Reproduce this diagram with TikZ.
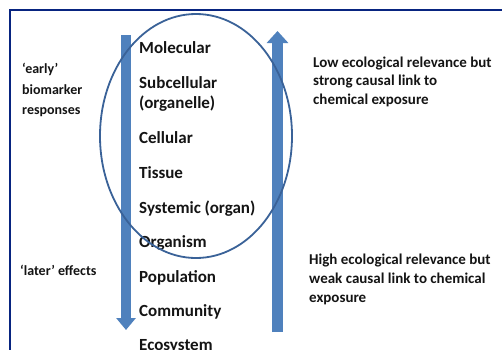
\documentclass[tikz,border=0pt]{standalone}
\usepackage{fontspec}
\setmainfont{Carlito}
\usetikzlibrary{arrows.meta}
\definecolor{framenavy}{RGB}{8,36,128}
\definecolor{arrowblue}{RGB}{79,129,189}
\definecolor{ringblue}{RGB}{58,98,152}
\definecolor{ink}{RGB}{20,20,20}
\begin{document}
\begin{tikzpicture}[x=1pt,y=-1pt,
  level/.style={anchor=base west,inner sep=0pt,text=ink,font=\fontsize{17}{20}\selectfont\bfseries},
  note/.style={anchor=base west,inner sep=0pt,text=ink,font=\fontsize{15}{18}\selectfont\bfseries},
  side/.style={anchor=base west,inner sep=0pt,text=ink,font=\fontsize{14}{17}\selectfont\bfseries},
  blockarrow/.style={draw=arrowblue,line width=#1,line cap=butt},
  frameline/.style={draw=framenavy,line width=1.6pt},
  ring/.style={draw=ringblue,line width=1.8pt}]
  % canvas
  \useasboundingbox[fill=white] (0,0) rectangle (502,349);
  % outer frame (only top and left edges fall inside the canvas)
  \draw[frameline] (10,356) -- (10,10) -- (508,10);

  % block arrows
  \coordinate (downstart) at (126,35);
  \coordinate (downend) at (126,330);
  \coordinate (upstart) at (277.5,332);
  \coordinate (upend) at (277.5,31);
  \draw[blockarrow=10pt,-{Triangle[width=19pt,length=12pt]}] (downstart) -- (downend);
  \draw[blockarrow=11pt,-{Triangle[width=21pt,length=12pt]}] (upstart) -- (upend);

  % levels of biological organisation
  \node[level] (molecular)   at (139,53)    {Molecular};
  \node[level] (subcell)     at (139,88)    {Subcellular};
  \node[level] (organelle)   at (139,108.5) {(organelle)};
  \node[level] (cellular)    at (139,143)   {Cellular};
  \node[level] (tissue)      at (139,178)   {Tissue};
  \node[level] (systemic)    at (139,213)   {Systemic (organ)};
  \node[level] (organism)    at (139,247.5) {Organism};
  \node[level] (population)  at (139,282)   {Population};
  \node[level] (community)   at (139,316)   {Community};
  \node[level] (ecosystem)   at (139,350)   {Ecosystem};

  % ring around the early-response levels
  \draw[ring] (196,136) ellipse [x radius=96pt, y radius=122pt];

  % left-hand labels
  \node[side] (early1) at (22,73.5) {‘early’};
  \node[side] (early2) at (22,94)   {biomarker};
  \node[side] (early3) at (22,114)  {responses};
  \node[side] (later)  at (20,275)  {‘later’ effects};

  % right-hand notes
  \node[note] (low1)  at (313,67)    {Low ecological relevance but};
  \node[note] (low2)  at (313,85.5)  {strong causal link to};
  \node[note] (low3)  at (313,104)   {chemical exposure};
  \node[note] (high1) at (309,264)   {High ecological relevance but};
  \node[note] (high2) at (309,283)   {weak causal link to chemical};
  \node[note] (high3) at (309,302)   {exposure};
\end{tikzpicture}
\end{document}
